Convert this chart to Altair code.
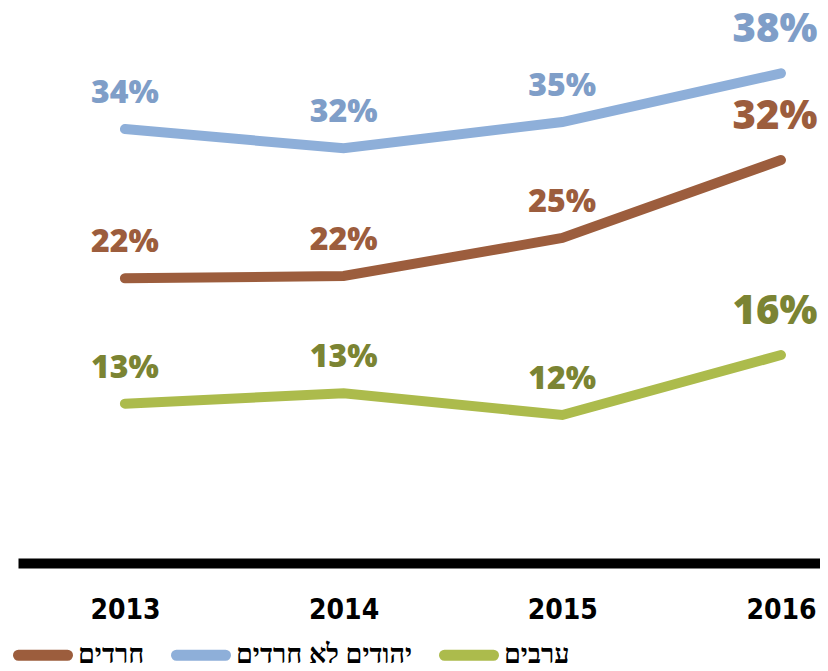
import altair as alt
import pandas as pd

years = [2013, 2014, 2015, 2016]
series_names = ["חרדים", "יהודים לא חרדים", "ערבים"]

haredi = [22.24, 22.42, 25.39, 31.48]
jews_non_haredi = [33.9, 32.4, 34.45, 38.26]
arabs = [12.45, 13.26, 11.56, 16.25]

haredi_labels = ["22%", "22%", "25%", "32%"]
jews_labels = ["34%", "32%", "35%", "38%"]
arabs_labels = ["13%", "13%", "12%", "16%"]

line_colors = ["#9c5d3d", "#8eafd9", "#acbb4c"]
label_colors = ["#9c5d3d", "#7f9ec8", "#7b8433"]

rows = []
for name, vals, labs, lc in zip(series_names,
                                [haredi, jews_non_haredi, arabs],
                                [haredi_labels, jews_labels, arabs_labels],
                                label_colors):
    for y, v, l in zip(years, vals, labs):
        rows.append({"series": name, "year": y, "value": v, "label": l, "label_color": lc})
df = pd.DataFrame(rows)

# thin closed outline, stroked wide -> rounded capsule legend symbol
capsule = ("M -0.817 -0.0167 L 0.817 -0.0167 A 0.0167 0.0167 0 0 1 0.817 0.0167 "
           "L -0.817 0.0167 A 0.0167 0.0167 0 0 1 -0.817 -0.0167 Z")

x = alt.X("year:Q",
          scale=alt.Scale(domain=[2012.511, 2016.1785], nice=False, zero=False),
          axis=alt.Axis(values=years, format="d", title=None, grid=False, ticks=False,
                        domainColor="black", domainWidth=10,
                        labelFont="DejaVu Sans Condensed", labelFontSize=28,
                        labelFontWeight="bold", labelColor="black",
                        labelPadding=33, labelOverlap=False))
y = alt.Y("value:Q", scale=alt.Scale(domain=[0, 43.36], nice=False, zero=False), axis=None)

base = alt.Chart(df)

lines = base.mark_line(strokeWidth=10, strokeCap="round").encode(
    x=x, y=y,
    color=alt.Color("series:N",
                    scale=alt.Scale(domain=series_names, range=line_colors),
                    sort=series_names,
                    legend=alt.Legend(orient="none", legendX=-10, legendY=612,
                                      direction="horizontal", title=None,
                                      symbolType=capsule, symbolSize=3600,
                                      symbolStrokeWidth=10,
                                      labelFont="Liberation Sans Narrow",
                                      labelFontSize=27, labelFontWeight="bold",
                                      labelColor="black", labelOffset=0,
                                      columnPadding=10, padding=0, labelLimit=400)),
    order="year:Q",
)

labels_small = base.transform_filter("datum.year < 2016").mark_text(
    dy=-26, fontSize=32, font="Open Sans", fontWeight=800,
    baseline="alphabetic", align="center"
).encode(x=x, y=y, text="label:N", color=alt.Color("label_color:N", scale=None))

labels_big = base.transform_filter("datum.year == 2016").mark_text(
    dy=-31, dx=-6, fontSize=40, font="Open Sans", fontWeight=800,
    baseline="alphabetic", align="center"
).encode(x=x, y=y, text="label:N", color=alt.Color("label_color:N", scale=None))

chart = alt.layer(lines, labels_small, labels_big).properties(
    width=802, height=555,
    autosize=alt.AutoSizeParams(type="none"),
    padding={"left": 10, "top": 0, "right": 0, "bottom": 112},
    background="white",
).configure_view(stroke=None)

chart.save("out.html", embed_options={"renderer": "svg", "actions": False})
